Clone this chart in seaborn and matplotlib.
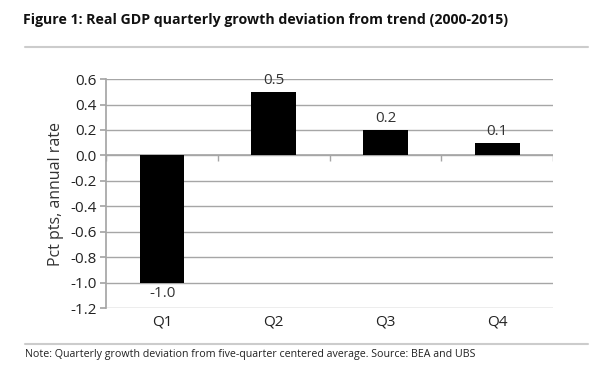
import matplotlib
matplotlib.use('Agg')
import matplotlib.pyplot as plt
import seaborn as sns
import numpy as np
import pandas as pd

quarters = ['Q1', 'Q2', 'Q3', 'Q4']
deviation = [-1.0, 0.5, 0.2, 0.1]
yticks = [-1.2, -1.0, -0.8, -0.6, -0.4, -0.2, 0.0, 0.2, 0.4, 0.6]

df = pd.DataFrame({'Quarter': quarters, 'Deviation': deviation})

sns.set_theme(style='white')
plt.rcParams['font.family'] = ['Open Sans', 'DejaVu Sans']

fig = plt.figure(figsize=(6, 3.68), dpi=100)
ax = fig.add_axes([0.177, 0.163, 0.745, 0.622])

sns.barplot(data=df, x='Quarter', y='Deviation', color='black',
            width=0.4, saturation=1, linewidth=0, ax=ax, zorder=3)

grid_c = '#a6a6a6'
ax.set_ylim(-1.2, 0.6)
ax.set_xlim(-0.5, 3.5)
ax.set_yticks(yticks)
ax.set_yticklabels([f'{v:.1f}' for v in yticks], fontsize=11, color='#222222')
for v in yticks:
    ax.axhline(v, color=grid_c, lw=1, zorder=1)
ax.axhline(0, color=grid_c, lw=1.2, zorder=2)
ax.vlines(np.arange(-0.5, 4, 1), 0, -0.04, color=grid_c, lw=1, zorder=2)

for s in ['top', 'right', 'bottom']:
    ax.spines[s].set_visible(False)
ax.spines['left'].set_color(grid_c)
ax.tick_params(axis='y', length=4, color=grid_c, left=True, pad=3)
ax.tick_params(axis='x', length=0, labelsize=11, colors='#222222', pad=5)
ax.set_xlabel('')
ax.set_ylabel('Pct pts, annual rate', fontsize=11.5, color='#333333', labelpad=4)

for i, v in enumerate(deviation):
    off = 0.03 if v > 0 else -0.03
    ax.text(i, v + off, f'{v:.1f}', ha='center',
            va='bottom' if v > 0 else 'top', fontsize=11, color='#333333', zorder=4)

fig.text(0.038, 0.945, 'Figure 1: Real GDP quarterly growth deviation from trend (2000-2015)',
         fontsize=10.2, fontweight='bold', va='center', ha='left', color='#111111')
fig.add_artist(plt.Line2D([0.042, 0.98], [0.872, 0.872], color='#cccccc', lw=1.5))
fig.add_artist(plt.Line2D([0.042, 0.98], [0.065, 0.065], color='#cccccc', lw=1.5))
fig.text(0.042, 0.036, 'Note: Quarterly growth deviation from five-quarter centered average. Source: BEA and UBS',
         fontsize=7.7, va='center', ha='left', color='#222222')

fig.savefig('out.png', dpi=100, facecolor='white')
